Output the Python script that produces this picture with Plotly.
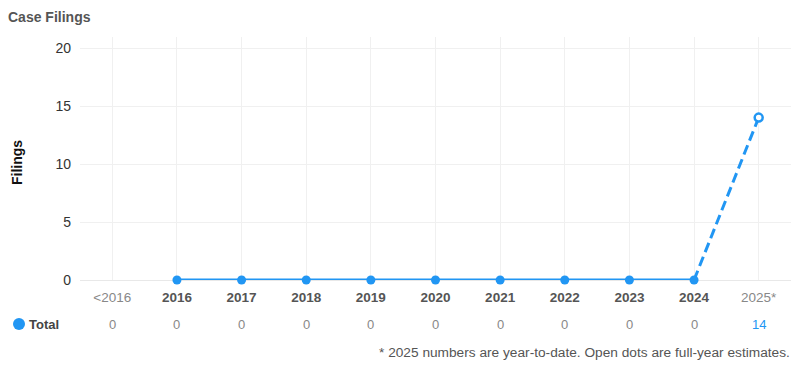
import plotly.graph_objects as go

categories = ["<2016", "2016", "2017", "2018", "2019", "2020", "2021", "2022", "2023", "2024", "2025*"]
filings = [None, 0, 0, 0, 0, 0, 0, 0, 0, 0, None]
estimate_x = ["2024", "2025*"]
estimate_y = [0, 14]
totals = [0, 0, 0, 0, 0, 0, 0, 0, 0, 0, 14]
y_ticks = [0, 5, 10, 15, 20]

BLUE = "#2196F3"
FONT = "Liberation Sans, Arial, sans-serif"

W, H = 800, 376
L, R, T, B = 80, 9, 37, 96
pw, ph = W - L - R, H - T - B
def px_x(x):
    return (x - L) / pw
def px_y(y):
    return (H - B - y) / ph

ticktext = []
for c in categories:
    if c.startswith("<") or c.endswith("*"):
        ticktext.append(f"<span style='color:#888'>{c.replace('<', '&lt;')}</span>")
    else:
        ticktext.append(f"<b>{c}</b>")

fig = go.Figure()
fig.add_trace(go.Scatter(
    x=estimate_x, y=estimate_y, mode="lines",
    line=dict(color=BLUE, width=3, dash="10px,5px"),
    hoverinfo="skip", cliponaxis=False, showlegend=False))
fig.add_trace(go.Scatter(
    x=categories, y=filings, mode="lines+markers",
    line=dict(color=BLUE, width=3),
    marker=dict(size=9, color=BLUE),
    cliponaxis=False, showlegend=False, name="Total"))
fig.add_trace(go.Scatter(
    x=[estimate_x[1]], y=[estimate_y[1]], mode="markers",
    marker=dict(size=8, color="white", line=dict(color=BLUE, width=2.5)),
    cliponaxis=False, showlegend=False))

annotations = []
for i, (c, t) in enumerate(zip(categories, totals)):
    annotations.append(dict(
        x=i, y=px_y(324), xref="x", yref="paper", yanchor="middle", text=str(t),
        showarrow=False, font=dict(size=13, color=BLUE if c.endswith("*") else "#888", family=FONT)))
annotations.append(dict(
    x=px_x(27), y=px_y(324), xref="paper", yref="paper", text="<b>Total</b>", showarrow=False,
    xanchor="left", yanchor="middle", font=dict(size=13, color="#444", family=FONT)))
annotations.append(dict(
    x=px_x(792), y=px_y(352), xref="paper", yref="paper", xanchor="right", yanchor="middle",
    text="* 2025 numbers are year-to-date. Open dots are full-year estimates.",
    showarrow=False, font=dict(size=13.7, color="#555", family=FONT)))
annotations.append(dict(
    x=px_x(17), y=px_y(163), xref="paper", yref="paper", xanchor="center", yanchor="middle",
    text="<b>Filings</b>", textangle=-90, showarrow=False,
    font=dict(size=14, color="#111", family=FONT)))

fig.add_shape(type="circle", xref="paper", yref="paper",
              x0=px_x(13), x1=px_x(25), y0=px_y(330), y1=px_y(318),
              line=dict(width=0), fillcolor=BLUE, layer="above")

fig.update_layout(
    width=W, height=H,
    margin=dict(l=L, r=R, t=T, b=B, autoexpand=False),
    paper_bgcolor="white", plot_bgcolor="white",
    font=dict(family=FONT, size=13, color="#333"),
    title=dict(text="<b>Case Filings</b>", x=8 / W, xanchor="left", y=1 - 17 / H, yanchor="middle",
               font=dict(size=14, color="#555", family=FONT)),
    xaxis=dict(type="category", categoryorder="array", categoryarray=categories,
               tickvals=categories, ticktext=ticktext, range=[-0.5, 10.5],
               showgrid=True, gridcolor="#f0f0f0", gridwidth=1, zeroline=False,
               showline=False, ticks="", ticklabelstandoff=7,
               tickfont=dict(size=13.5, color="#555", family=FONT),
               automargin=False, fixedrange=True),
    yaxis=dict(range=[0, 20.95], tickvals=y_ticks, showgrid=True, gridcolor="#f0f0f0",
               zeroline=True, zerolinecolor="#e8e8e8", zerolinewidth=1,
               ticks="", ticklabelstandoff=8, tickfont=dict(size=14, color="#333", family=FONT),
               automargin=False, fixedrange=True),
    annotations=annotations,
)

fig.write_html("out.html", config={"displayModeBar": False},
               post_script="document.body.style.margin='0';")
